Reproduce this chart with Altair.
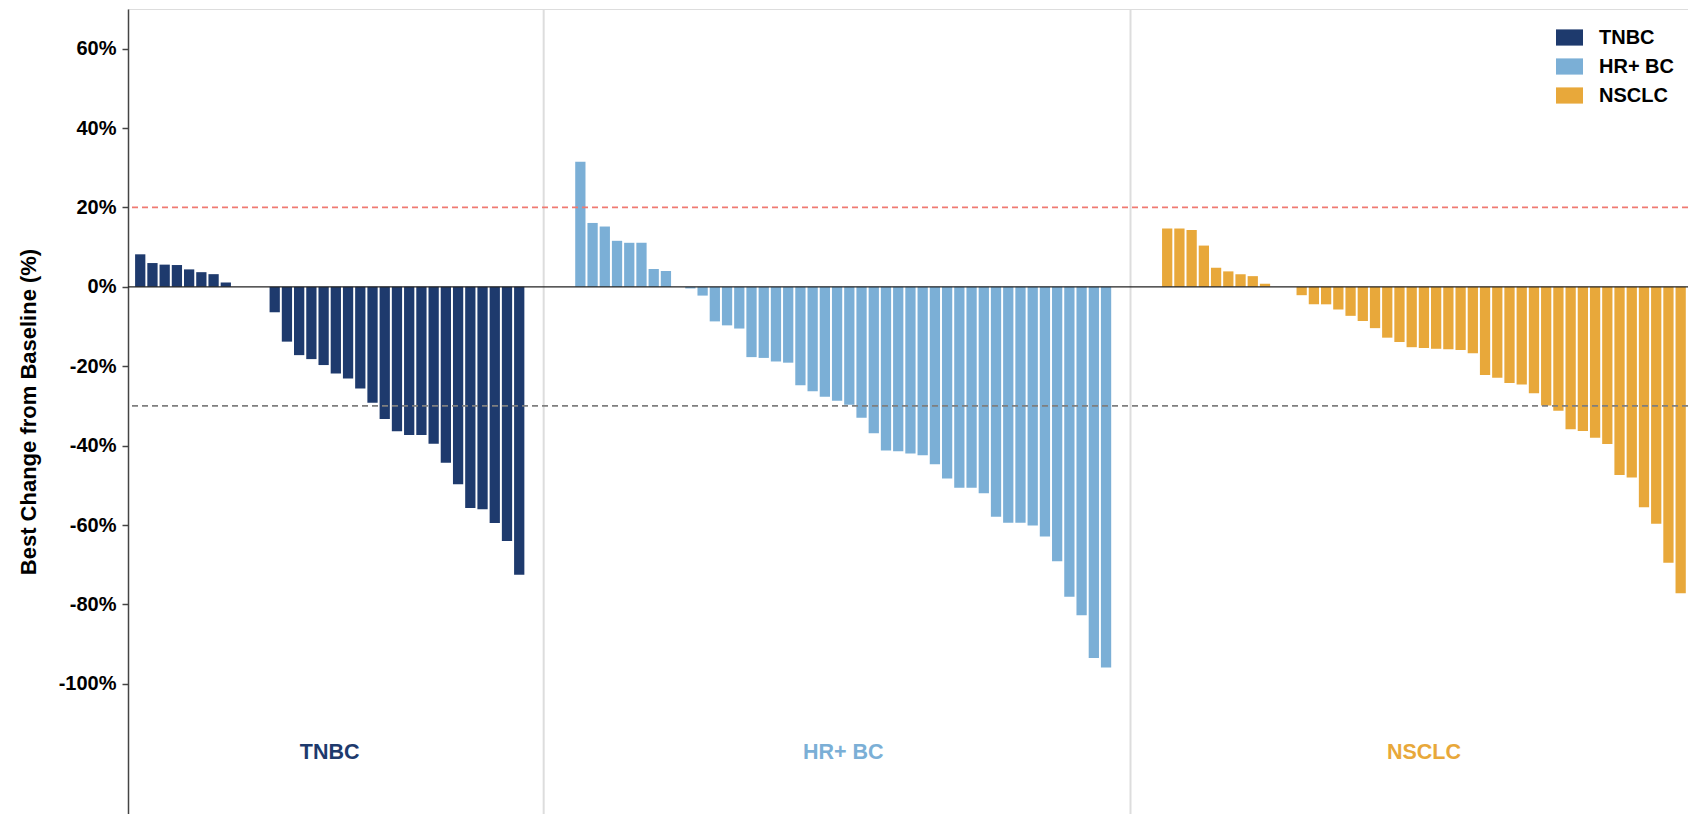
import altair as alt
import pandas as pd

# Cohorts, their colours and best % change from baseline per patient (sorted waterfall order)
groups = ["TNBC", "HR+ BC", "NSCLC"]
colors = ["#1E3A6D", "#7BAFD6", "#E8A83A"]

tnbc = [8.2, 6.0, 5.6, 5.5, 4.4, 3.7, 3.2, 1.1, 0, 0, 0,
        -6.4, -13.8, -17.2, -18.2, -19.7, -21.8, -23.1, -25.6, -29.2, -33.3,
        -36.4, -37.3, -37.3, -39.5, -44.3, -49.7, -55.7, -56.0, -59.5, -64.0, -72.5]

hr_bc = [31.5, 16.1, 15.2, 11.6, 11.1, 11.1, 4.5, 4.0, 0, -0.4,
         -2.2, -8.7, -9.7, -10.5, -17.7, -17.9, -18.8, -19.1, -24.8, -26.3,
         -27.7, -28.7, -29.7, -33.0, -36.9, -41.2, -41.4, -42.0, -42.4, -44.7,
         -48.3, -50.6, -50.6, -52.0, -57.9, -59.4, -59.4, -60.1, -62.9, -69.1,
         -78.1, -82.7, -93.5, -95.9]

nsclc = [14.7, 14.7, 14.3, 10.4, 4.8, 3.9, 3.2, 2.7, 0.8, 0, 0,
         -2.1, -4.4, -4.4, -5.7, -7.3, -8.6, -10.4, -12.8, -13.9, -15.2,
         -15.4, -15.6, -15.7, -15.9, -16.7, -22.2, -22.9, -24.2, -24.6, -26.8,
         -29.9, -31.2, -35.9, -36.3, -38.0, -39.6, -47.4, -48.0, -55.5, -59.7,
         -69.5, -77.2]

# Reference lines: progression (+20%) and partial response (-30%)
thresholds = [20, -30]
threshold_colors = ["#F07A72", "#7F7F7F"]
y_ticks = [-100, -80, -60, -40, -20, 0, 20, 40, 60]

FONT = "Liberation Sans"
GAP = 4  # empty slots between cohorts

# Lay patients out on one running index, with a gap between cohorts
rows, centers, seps = [], [], []
pos = 0
for name, vals in zip(groups, [tnbc, hr_bc, nsclc]):
    start = pos + 1
    for v in vals:
        pos += 1
        rows.append({"idx": pos, "value": v, "group": name})
    centers.append((start + pos) / 2)
    seps.append(pos + 2)
    pos += GAP
seps = seps[:-1]

bars_df = pd.DataFrame(rows)
labels_df = pd.DataFrame({"center": centers, "group": groups, "col": colors})
seps_df = pd.DataFrame({"sep": seps})
thr_df = pd.DataFrame({"thr": thresholds, "col": threshold_colors})

x_scale = alt.Scale(domain=[0, 127.6], nice=False, zero=False)
y_scale = alt.Scale(domain=[-132.8, 70], nice=False, zero=False)

sep_layer = alt.Chart(seps_df).mark_rule(color="#DDDDDD", strokeWidth=2).encode(
    x=alt.X("sep:Q", scale=x_scale, axis=None)
)

bars = alt.Chart(bars_df).transform_calculate(
    x0="datum.idx - 0.42", x1="datum.idx + 0.42"
).mark_bar(strokeWidth=0).encode(
    x=alt.X("x0:Q", scale=x_scale, axis=None),
    x2="x1:Q",
    y=alt.Y("value:Q", scale=y_scale,
            axis=alt.Axis(values=y_ticks, labelExpr="datum.value + '%'",
                          title="Best Change from Baseline (%)", grid=False,
                          domainColor="#444444", domainWidth=1.5,
                          tickColor="#444444", tickWidth=1.5, tickSize=6,
                          labelPadding=6, labelFont=FONT, labelFontSize=20,
                          labelFontWeight="bold", labelColor="#000000",
                          titleFont=FONT, titleFontSize=22, titleFontWeight="bold",
                          titleColor="#000000", titlePadding=18)),
    y2=alt.datum(0),
    color=alt.Color("group:N",
                    scale=alt.Scale(domain=groups, range=colors),
                    legend=alt.Legend(title=None, orient="none",
                                      legendX=1428, legendY=15,
                                      symbolType="M-1,-0.6H1V0.6H-1Z",
                                      symbolSize=729, symbolStrokeWidth=0,
                                      symbolOpacity=1,
                                      labelFont=FONT, labelFontSize=20,
                                      labelFontWeight="bold", labelColor="#000000",
                                      labelOffset=16, rowPadding=5, padding=0)),
)

zero_line = alt.Chart(pd.DataFrame({"z": [0]})).mark_rule(
    color="#222222", strokeWidth=1.4
).encode(y=alt.Y("z:Q", scale=y_scale))

thr_lines = alt.Chart(thr_df).mark_rule(strokeWidth=1.8, strokeDash=[6, 4]).encode(
    y=alt.Y("thr:Q", scale=y_scale),
    color=alt.Color("col:N", scale=None),
)

group_text = alt.Chart(labels_df).mark_text(
    font=FONT, fontSize=21.5, fontWeight="bold", baseline="middle", align="center"
).encode(
    x=alt.X("center:Q", scale=x_scale),
    y=alt.datum(-117.5),
    text="group:N",
    color=alt.Color("col:N", scale=None),
)

chart = alt.layer(sep_layer, bars, zero_line, thr_lines, group_text).properties(
    width=1560, height=805,
    autosize=alt.AutoSizeParams(type="none"),
    padding={"left": 128, "top": 9, "right": 0, "bottom": 0},
    background="#FFFFFF",
).configure_view(stroke=None).configure(font=FONT)

chart.save("out.html", embed_options={"renderer": "svg", "actions": False})
